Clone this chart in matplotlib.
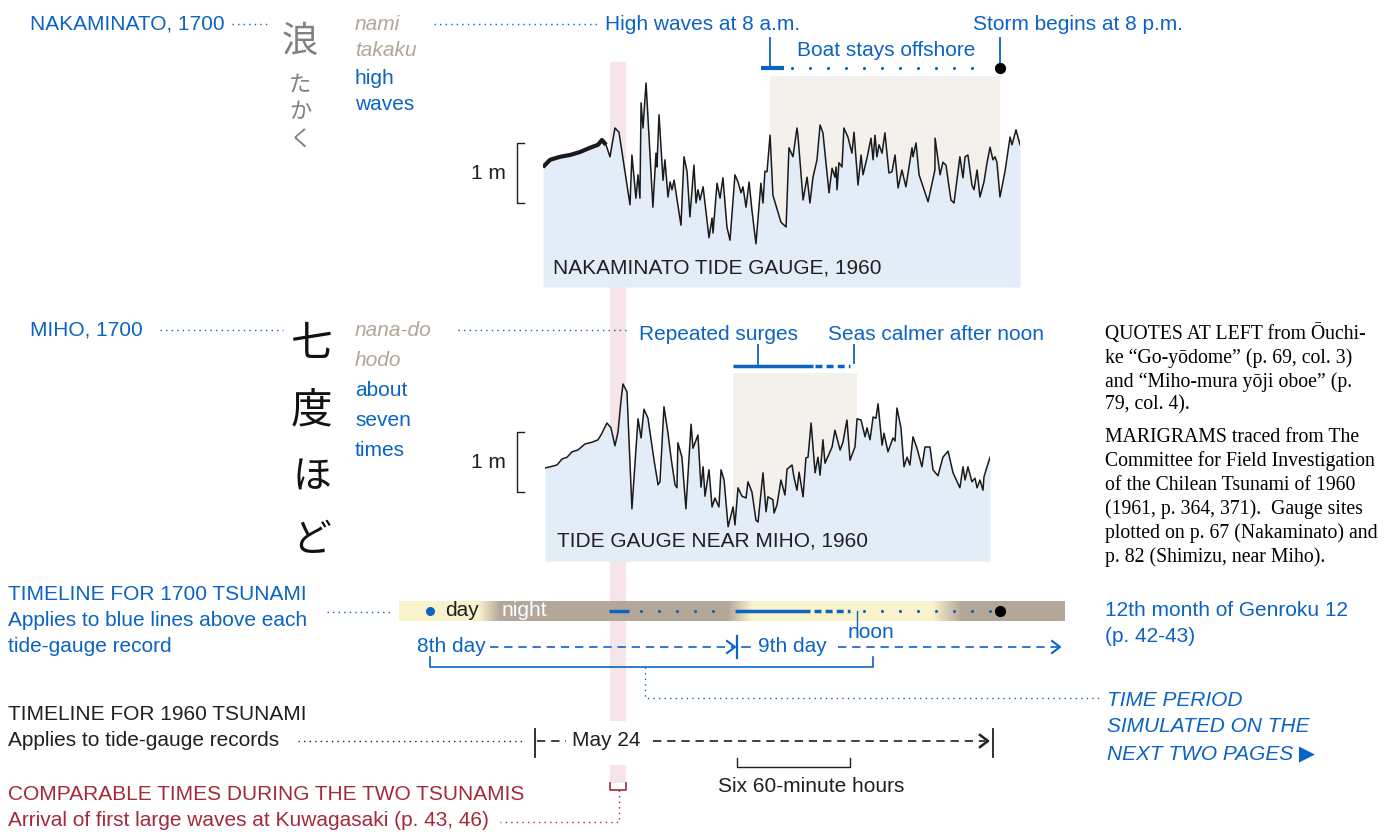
import numpy as np
import matplotlib.pyplot as plt
from matplotlib.patches import Rectangle

# ---- marigram data (hours after start of May 24 1960, water level in m) ----
naka_hours = [0.42, 0.79, 1.31, 1.83, 2.36, 2.88, 3.30, 3.51, 3.72, 3.93,
              4.19, 4.40, 4.98, 5.08, 5.29, 5.40, 5.50, 5.56, 5.66, 5.82,
              6.18, 6.34, 6.39, 6.50, 6.71, 6.81, 6.97, 7.08, 7.18, 7.29,
              7.65, 7.81, 7.97, 8.12, 8.33, 8.44, 8.54, 8.65, 8.81, 9.12,
              9.28, 9.33, 9.54, 9.70, 9.85, 10.06, 10.22, 10.48, 10.64, 10.80,
              10.90, 11.06, 11.22, 11.37, 11.58, 11.84, 11.95, 12.05, 12.16, 12.32,
              12.47, 12.89, 13.16, 13.31, 13.52, 13.73, 13.78, 14.05, 14.26, 14.41,
              14.57, 14.78, 14.94, 15.09, 15.41, 15.57, 15.72, 15.78, 15.83, 15.93,
              16.09, 16.19, 16.40, 16.61, 16.72, 16.93, 17.09, 17.19, 17.40, 17.61,
              17.72, 17.82, 17.92, 18.03, 18.19, 18.34, 18.55, 18.71, 18.87, 19.03,
              19.23, 19.44, 19.76, 19.81, 19.97, 20.13, 20.60, 20.96, 20.97, 21.23,
              21.38, 21.54, 21.80, 21.96, 22.27, 22.43, 22.54, 22.69, 22.90, 23.01,
              23.17, 23.32, 23.53, 23.69, 23.85, 24.00, 24.11, 24.21, 24.37, 24.63,
              24.90, 25.00, 25.21, 25.42]
naka_level = [0.00, 0.12, 0.17, 0.20, 0.25, 0.32, 0.37, 0.45, 0.37, 0.17,
              0.65, 0.58, -0.63, 0.20, -0.52, -0.13, -0.52, 1.07, 0.65, 1.40,
              -0.67, 0.23, 0.00, 0.87, -0.22, 0.12, -0.50, -0.25, -0.38, -0.22,
              -0.97, 0.17, -0.08, -0.83, 0.03, -0.60, -0.38, -0.55, -0.33, -1.18,
              -0.85, -1.10, -0.27, -0.52, -0.18, -1.00, -1.22, -0.13, -0.25, -0.43,
              -0.33, -0.67, -0.25, -0.72, -1.28, -0.27, -0.60, -0.07, -0.08, 0.53,
              -0.47, -0.92, -1.00, 0.32, 0.17, 0.65, 0.53, -0.55, -0.17, -0.60,
              -0.17, 0.12, 0.70, 0.57, -0.43, -0.02, -0.17, 0.00, -0.38, 0.07,
              0.00, 0.65, 0.50, 0.23, 0.58, -0.30, 0.20, -0.13, 0.15, 0.48,
              0.12, 0.53, 0.17, 0.37, 0.23, 0.57, -0.10, -0.08, 0.20, -0.35,
              -0.05, -0.33, 0.32, 0.17, 0.40, -0.13, -0.58, -0.05, 0.48, -0.13,
              0.08, 0.03, -0.55, -0.60, 0.17, -0.18, 0.17, 0.20, -0.30, -0.38,
              -0.05, -0.50, -0.25, 0.07, 0.33, 0.12, 0.17, 0.08, -0.50, -0.08,
              0.50, 0.37, 0.62, 0.37]

miho_hours = [0.52, 0.79, 1.15, 1.42, 1.68, 1.94, 2.25, 2.62, 2.99, 3.30,
              3.46, 3.77, 3.98, 4.19, 4.35, 4.51, 4.61, 4.82, 5.08, 5.40,
              5.56, 5.71, 5.92, 6.24, 6.45, 6.55, 6.76, 6.97, 7.13, 7.34,
              7.44, 7.49, 7.70, 7.91, 8.18, 8.28, 8.54, 8.70, 8.81, 8.91,
              9.12, 9.28, 9.43, 9.64, 9.75, 9.91, 10.12, 10.38, 10.48, 10.64,
              10.85, 11.06, 11.16, 11.37, 11.58, 11.69, 11.95, 12.11, 12.21, 12.47,
              12.53, 12.68, 12.89, 13.10, 13.21, 13.47, 13.57, 13.73, 13.84, 14.05,
              14.20, 14.31, 14.47, 14.68, 14.83, 14.94, 15.09, 15.20, 15.57, 15.72,
              15.99, 16.14, 16.35, 16.51, 16.77, 16.88, 17.09, 17.30, 17.40, 17.56,
              17.72, 17.87, 17.98, 18.19, 18.29, 18.50, 18.76, 18.87, 18.97, 19.18,
              19.34, 19.50, 19.65, 19.81, 20.02, 20.28, 20.44, 20.70, 20.86, 21.12,
              21.38, 21.65, 21.91, 22.27, 22.43, 22.54, 22.69, 22.90, 23.06, 23.17,
              23.32, 23.48, 23.53, 23.69, 23.85]
miho_level = [0.00, 0.02, 0.05, 0.15, 0.18, 0.27, 0.30, 0.40, 0.43, 0.47,
              0.55, 0.75, 0.67, 0.37, 0.60, 1.13, 1.40, 1.27, -0.68, 0.82,
              0.50, 0.98, 0.83, 0.13, -0.28, -0.23, 1.02, 0.58, 0.17, -0.28,
              -0.33, 0.42, 0.18, -0.68, 0.73, 0.33, 0.55, -0.32, 0.02, -0.47,
              -0.03, -0.65, -0.50, -0.65, -0.03, -0.20, -0.98, -0.65, -0.95, -0.33,
              -0.47, -0.50, -0.23, -0.40, -0.87, -0.90, -0.08, -0.73, -0.48, -0.53,
              -0.75, -0.62, -0.20, -0.45, -0.02, 0.05, -0.15, -0.37, -0.07, -0.48,
              0.17, 0.18, 0.75, -0.08, 0.18, -0.12, 0.47, 0.08, 0.35, 0.63,
              0.30, 0.43, 0.80, 0.13, 0.35, 0.82, 0.80, 0.52, 0.67, 0.47,
              0.85, 0.83, 1.07, 0.38, 0.58, 0.27, 0.50, 0.45, 1.00, 0.67,
              0.02, 0.18, 0.05, 0.52, 0.33, 0.02, 0.35, 0.35, -0.03, -0.13,
              0.18, 0.28, -0.08, -0.33, 0.02, -0.20, 0.02, -0.23, -0.17, -0.33,
              -0.20, -0.37, -0.15, 0.02, 0.18]

naka_offshore = (12.32, 24.37)   # "Boat stays offshore" span
miho_surges = (10.38, 16.88)     # "Repeated surges" span
arrival = (3.93, 4.77)           # first large waves at Kuwagasaki

# ---- colours ----
BLUE = '#0b63c4'
TAN = '#b2a696'
RED = '#a32a3a'
INK = '#231f20'
FILL = '#e3edf8'
BEIGE = '#f4f0ec'
PINK = '#f5e4e8'
BAR_DARK = np.array([0.705, 0.655, 0.600])
BAR_LIGHT = np.array([0.980, 0.953, 0.800])

W, H = 1396, 832
PX0, PXH, PXM = 535, 19.08, 60   # hour 0 at x=535, 19.08 px/hour, 60 px/m


def hx(t):
    return PX0 + PXH * t


plt.rcParams['font.family'] = ['Liberation Sans', 'DejaVu Sans']
fig = plt.figure(figsize=(W / 100, H / 100), dpi=100)
ax = fig.add_axes([0, 0, 1, 1])
ax.set_xlim(0, W)
ax.set_ylim(H, 0)
ax.axis('off')

FS = 15


def txt(x, y, s, c=BLUE, **kw):
    kw.setdefault('fontsize', FS)
    kw.setdefault('va', 'center')
    kw.setdefault('ha', 'left')
    ax.text(x, y, s, color=c, **kw)


def dots(x0, x1, y, c=BLUE):
    ax.plot([x0, x1], [y, y], color=c, lw=1, ls=(0, (1, 3)))


# pink comparable-time band
a0, a1 = hx(arrival[0]), hx(arrival[1])
ax.add_patch(Rectangle((a0, 62), a1 - a0, 721 - 62, color=PINK, lw=0, zorder=0))
ax.add_patch(Rectangle((a0, 765), a1 - a0, 783 - 765, color=PINK, lw=0, zorder=0))
ax.plot([a0, a0, a1, a1], [783, 790, 790, 783], color=RED, lw=1.2)
ax.plot([619, 619, 500], [790, 822, 822], color=RED, lw=1, ls=(0, (1, 3)))


def make_gauge(hours, level, shade, y_top, y_bot, y_zero, label, label_y, bar_lo):
    t0, t1 = hours[0], hours[-1]
    g = fig.add_axes([hx(t0) / W, 1 - y_bot / H, (hx(t1) - hx(t0)) / W, (y_bot - y_top) / H])
    g.set_facecolor('none')
    g.axis('off')
    h_top = (y_zero - y_top) / PXM
    h_bot = (y_zero - y_bot) / PXM
    g.set_xlim(t0, t1)
    g.set_ylim(h_bot, h_top)
    g.axvspan(shade[0], shade[1], color=BEIGE, lw=0, zorder=0)
    g.fill_between(hours, level, h_bot, color=FILL, lw=0, zorder=1)
    g.plot(hours, level, color='#1a1a1a', lw=1.1, zorder=2)
    # 1 m scale bracket
    tb0, tb1 = (517 - PX0) / PXH, (524 - PX0) / PXH
    g.plot([tb1, tb0, tb0, tb1], [bar_lo + 1, bar_lo + 1, bar_lo, bar_lo],
           color=INK, lw=1, clip_on=False)
    g.text((506 - PX0) / PXH, bar_lo + 0.5, '1 m', ha='right', va='center',
           fontsize=FS, color=INK)
    g.text(label[1], label_y, label[0], transform=ax.transData, fontsize=FS,
           color=INK, va='center', ha='left', zorder=3)
    return g


g1 = make_gauge(naka_hours, naka_level, naka_offshore, 76, 287, 167,
                ('NAKAMINATO TIDE GAUGE, 1960', 553), 268, -0.6)
# noisy opening stretch drawn heavier
g1.plot(naka_hours[:9], naka_level[:9], color='#1a1a1a', lw=3.0, zorder=2,
        solid_capstyle='butt')
g2 = make_gauge(miho_hours, miho_level, miho_surges, 373, 561, 468,
                ('TIDE GAUGE NEAR MIHO, 1960', 557), 541, -0.4)

# ---- Nakaminato 1700 notes ----
txt(30, 24, 'NAKAMINATO, 1700')
dots(232, 268, 24)
for y, s, c in [(24, 'nami', TAN), (51, 'takaku', TAN), (78, 'high', BLUE), (104, 'waves', BLUE)]:
    txt(355, y, s, c, style='italic' if c == TAN else 'normal')
dots(434, 597, 24)
txt(605, 24, 'High waves at 8 a.m.')
txt(973, 24, 'Storm begins at 8 p.m.')
txt(797, 50, 'Boat stays offshore')
ax.plot([770, 770], [38, 68], color=BLUE, lw=1.3)
ax.plot([761, 784], [68, 68], color=BLUE, lw=3, solid_capstyle='butt')
ax.plot([1000, 1000], [38, 68], color=BLUE, lw=1.3)
xs = np.arange(792, 990, 18)
ax.scatter(xs, np.full(len(xs), 68), s=5, color=BLUE, lw=0)
ax.scatter([1000], [68], s=50, color='black', zorder=5)

# calligraphy (vertical)
for y, ch, fs in [(42, '浪', 26), (84, 'た', 16), (112, 'か', 16), (140, 'く', 16)]:
    ax.text(300, y, ch, fontsize=fs, color='#6a6a6a', ha='center', va='center',
            family=['Noto Sans CJK JP'], alpha=0.85)
for y, ch, fs in [(345, '七', 30), (412, '度', 30), (478, 'ほ', 28), (540, 'ど', 28)]:
    ax.text(312, y, ch, fontsize=fs, color='#111111', ha='center', va='center',
            family=['Noto Sans CJK JP'])

# ---- Miho 1700 notes ----
txt(30, 330, 'MIHO, 1700')
dots(160, 283, 330)
for y, s, c in [(331, 'nana-do', TAN), (361, 'hodo', TAN), (391, 'about', BLUE),
                (420, 'seven', BLUE), (450, 'times', BLUE)]:
    txt(355, y, s, c, style='italic' if c == TAN else 'normal')
dots(458, 630, 330)
txt(639, 334, 'Repeated surges')
txt(828, 334, 'Seas calmer after noon')
ax.plot([758, 758], [345, 366], color=BLUE, lw=1.3)
ax.plot([733, 813], [366, 366], color=BLUE, lw=2.5, solid_capstyle='butt')
ax.plot([815, 850], [366, 366], color=BLUE, lw=2.5, ls=(0, (2, 1.2)))
ax.plot([854, 854], [345, 363], color=BLUE, lw=1.3)

# ---- 1700 day/night bar ----
bx = np.linspace(399, 1065, 700)
light = np.interp(bx, [399, 478, 500, 728, 752, 932, 962, 1065], [1, 1, 0, 0, 1, 1, 0, 0])
row = light[:, None] * BAR_LIGHT + (1 - light[:, None]) * BAR_DARK
ax.imshow(row[None, :, :], extent=(399, 1065, 621, 601), aspect='auto', zorder=1)
ax.set_xlim(0, W)
ax.set_ylim(H, 0)
ax.scatter([430], [611], s=30, color=BLUE, zorder=3)
txt(445, 611, 'day', INK)
txt(502, 611, 'night', 'white')
ax.plot([609, 629], [611, 611], color=BLUE, lw=2.5, solid_capstyle='butt', zorder=3)
xs = np.arange(641, 725, 18)
ax.scatter(xs, np.full(len(xs), 611), s=5, color=BLUE, lw=0, zorder=3)
ax.plot([735, 810], [611, 611], color=BLUE, lw=2.5, solid_capstyle='butt', zorder=3)
ax.plot([814, 850], [611, 611], color=BLUE, lw=2.5, ls=(0, (2, 1.2)), zorder=3)
xs = np.arange(864, 992, 18)
ax.scatter(xs, np.full(len(xs), 611), s=5, color=BLUE, lw=0, zorder=3)
ax.scatter([1000], [611], s=50, color='black', zorder=5)
ax.plot([857, 857], [611, 627], color=BLUE, lw=1, zorder=3)
txt(848, 633, 'noon')
dots(327, 390, 612)


def chevron(x, y, c, lw=1.5):
    ax.plot([x - 8, x, x - 8], [y - 6, y, y + 6], color=c, lw=lw)


txt(417, 647, '8th day')
ax.plot([490, 733], [647, 647], color=BLUE, lw=1.2, ls=(0, (5, 3.5)))
chevron(735, 647, BLUE)
ax.plot([737, 737], [636, 658], color=BLUE, lw=1.6)
ax.plot([742, 750], [647, 647], color=BLUE, lw=1.2)
txt(758, 647, '9th day')
ax.plot([838, 1058], [647, 647], color=BLUE, lw=1.2, ls=(0, (5, 3.5)))
chevron(1060, 647, BLUE)
ax.plot([430, 430, 873, 873], [657, 667, 667, 657], color=BLUE, lw=1.2)
ax.plot([645, 645, 1100], [667, 698, 698], color=BLUE, lw=1, ls=(0, (1, 3)))

# ---- 1960 timeline ----
ax.plot([hx(0), hx(0)], [729, 757], color=INK, lw=1.3)
ax.plot([537, 566], [741, 741], color=INK, lw=1.2, ls=(0, (5, 3.5)))
txt(572, 741, 'May 24', INK)
ax.plot([653, 985], [741, 741], color=INK, lw=1.2, ls=(0, (5, 3.5)))
chevron(988, 741, INK, lw=1.8)
ax.plot([hx(24), hx(24)], [729, 757], color=INK, lw=1.3)
ax.plot([hx(10.6), hx(10.6), hx(16.5), hx(16.5)], [758, 767, 767, 758], color=INK, lw=1)
txt(811, 786, 'Six 60-minute hours', INK, ha='center')
dots(298, 522, 741, INK)

# ---- left labels ----
txt(8, 595, 'TIMELINE FOR 1700 TSUNAMI')
txt(8, 621, 'Applies to blue lines above each')
txt(8, 647, 'tide-gauge record')
txt(8, 715, 'TIMELINE FOR 1960 TSUNAMI', INK)
txt(8, 741, 'Applies to tide-gauge records', INK)
txt(8, 794, 'COMPARABLE TIMES DURING THE TWO TSUNAMIS', RED)
txt(8, 820, 'Arrival of first large waves at Kuwagasaki (p. 43, 46)', RED)

# ---- right notes ----
txt(1105, 610, '12th month of Genroku 12')
txt(1105, 637, '(p. 42-43)')
txt(1107, 700, 'TIME PERIOD', style='italic')
txt(1107, 727, 'SIMULATED ON THE', style='italic')
txt(1107, 754, 'NEXT TWO PAGES \u25b6', style='italic')

notes = [(334, 'QUOTES AT LEFT from \u014cuchi-'),
         (358, 'ke \u201cGo-y\u014ddome\u201d (p. 69, col. 3)'),
         (382, 'and \u201cMiho-mura y\u014dji oboe\u201d (p.'),
         (405, '79, col. 4).'),
         (437, 'MARIGRAMS traced from The'),
         (461, 'Committee for Field Investigation'),
         (485, 'of the Chilean Tsunami of 1960'),
         (509, '(1961, p. 364, 371).  Gauge sites'),
         (533, 'plotted on p. 67 (Nakaminato) and'),
         (557, 'p. 82 (Shimizu, near Miho).')]
for y, s in notes:
    txt(1105, y, s, 'black', fontsize=14.2, family=['Liberation Serif', 'DejaVu Serif'])

fig.savefig('out.png', dpi=100)
